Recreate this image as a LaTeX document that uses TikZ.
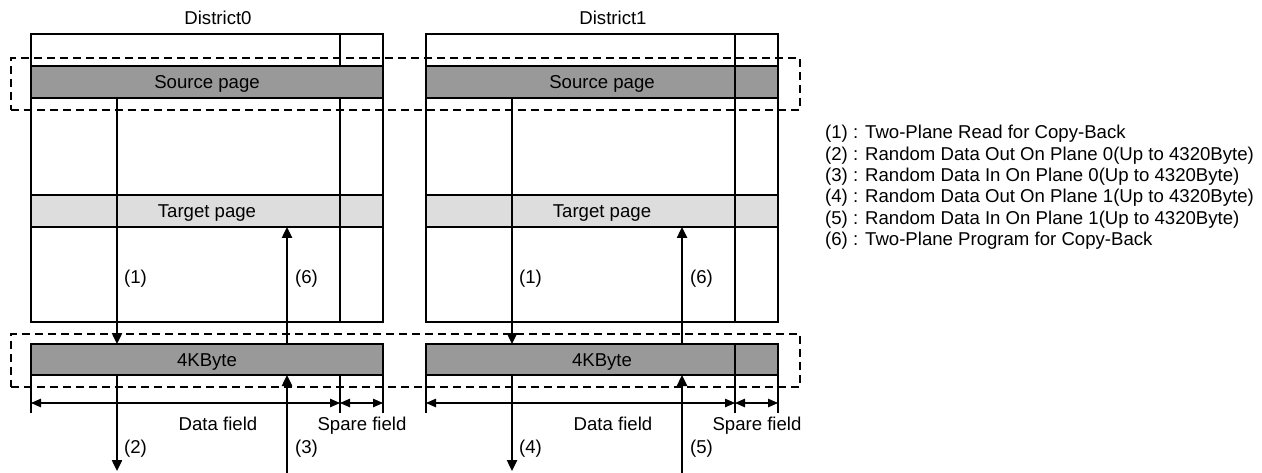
\documentclass[tikz,border=0pt]{standalone}
\usepackage{fontspec}
\setmainfont{Liberation Sans}
\usetikzlibrary{arrows.meta}
\definecolor{srcgray}{RGB}{153,153,153}
\definecolor{tgtgray}{RGB}{221,221,221}
\begin{document}
\begin{tikzpicture}[x=1pt,y=-1pt,
  font=\fontsize{18.6}{21}\selectfont,
  blk/.style={draw, line width=1.5pt, inner sep=0pt, outer sep=0pt, anchor=north west, minimum width=352, text height=13.3pt, text depth=0pt},
  arr/.style={line width=2.4pt, -{Triangle[length=11pt,width=10pt]}},
  dim/.style={line width=1.1pt, {Triangle[length=10pt,width=8.5pt]}-{Triangle[length=10pt,width=8.5pt]}},
  tick/.style={line width=1.1pt},
  divline/.style={line width=1.5pt},
  grpbox/.style={draw, line width=1.6pt, dash pattern=on 8pt off 5pt, inner sep=0pt, anchor=north west},
  lbl/.style={inner sep=0pt, anchor=base west},
  ctr/.style={inner sep=0pt, anchor=base}]
\useasboundingbox (0,0) rectangle (1262,473);
\foreach \i/\ox/\la/\lb in {0/0/2/3,1/395/4/5}{
  \begin{scope}[xshift=\ox pt]
    \node[blk, minimum height=288] (box\i) at (31,34) {};
    \node[blk, fill=srcgray, minimum height=32] (src\i) at (31,66) {Source page};
    \node[blk, fill=tgtgray, minimum height=32] (tgt\i) at (31,195) {Target page};
    \node[blk, fill=srcgray, minimum height=31] (buf\i) at (31,344) {4KByte};
    \node[ctr] (title\i) at (218,25) {District\i};
    \coordinate (a\i) at (117,0);
    \coordinate (b\i) at (287,0);
    \coordinate (dv\i) at (340,0);
    \coordinate (e\i) at (117,471);
    \coordinate (s\i) at (287,473);
    % main arrows
    \draw[arr] (src\i.south -| a\i) -- (buf\i.north -| a\i);
    \draw[arr] (buf\i.north -| b\i) -- (tgt\i.south -| b\i);
    \draw[arr] (buf\i.south -| a\i) -- (e\i);
    \draw[arr] (s\i) -- (buf\i.south -| b\i);
    \node[lbl] (l1\i) at (124,284) {(1)};
    \node[lbl] (l6\i) at (295,284) {(6)};
    \node[lbl] (lo\i) at (124,453) {(\la)};
    \node[lbl] (li\i) at (295,453) {(\lb)};
    % dimension lines
    \coordinate (t0\i) at (31,413);
    \coordinate (t1\i) at (340,413);
    \coordinate (t2\i) at (383,413);
    \coordinate (d0\i) at (31,403);
    \coordinate (d1\i) at (340,403);
    \coordinate (d2\i) at (383,403);
    \draw[tick] (buf\i.south west) -- (t0\i);
    \draw[tick] (buf\i.south -| t1\i) -- (t1\i);
    \draw[tick] (buf\i.south east) -- (t2\i);
    \draw[dim] (d0\i) -- (d1\i);
    \draw[dim] (d1\i) -- (d2\i);
    \node[ctr] (df\i) at (218,430.5) {Data field};
    \node[ctr] (sf\i) at (362,430.5) {Spare field};
  \end{scope}
}
% spare-field dividers
\draw[divline] (box0.north -| dv0) -- (src0.north -| dv0);
\draw[divline] (src0.south -| dv0) -- (box0.south -| dv0);
\draw[divline] (box1.north -| dv1) -- (box1.south -| dv1);
\draw[divline] (buf1.north -| dv1) -- (buf1.south -| dv1);
% dashed groups
\node[grpbox, minimum width=789, minimum height=52] (grpsrc) at (10,57) {};
\node[grpbox, minimum width=789, minimum height=53] (grpbuf) at (10,333) {};
% legend
\node[lbl] (leg1) at (825,139) {(1) : Two-Plane Read for Copy-Back};
\node[lbl] (leg2) at (825,160.3) {(2) : Random Data Out On Plane 0(Up to 4320Byte)};
\node[lbl] (leg3) at (825,181.6) {(3) : Random Data In On Plane 0(Up to 4320Byte)};
\node[lbl] (leg4) at (825,203) {(4) : Random Data Out On Plane 1(Up to 4320Byte)};
\node[lbl] (leg5) at (825,224.2) {(5) : Random Data In On Plane 1(Up to 4320Byte)};
\node[lbl] (leg6) at (825,245.5) {(6) : Two-Plane Program for Copy-Back};
\end{tikzpicture}
\end{document}
